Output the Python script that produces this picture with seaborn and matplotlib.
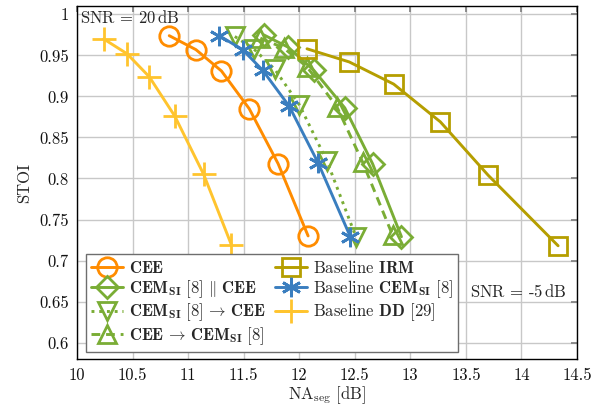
import matplotlib
matplotlib.use("Agg")
import matplotlib.pyplot as plt
import seaborn as sns
import pandas as pd

# NA_seg [dB] and STOI for each method
cee_x = [10.83, 11.07, 11.30, 11.55, 11.81, 12.08]
cee_y = [0.974, 0.957, 0.931, 0.885, 0.818, 0.730]

par_x = [11.68, 11.90, 12.13, 12.41, 12.66, 12.92]
par_y = [0.975, 0.960, 0.932, 0.886, 0.818, 0.729]

semcee_x = [11.42, 11.59, 11.78, 12.00, 12.25, 12.51]
semcee_y = [0.973, 0.958, 0.933, 0.890, 0.821, 0.729]

ceesem_x = [11.65, 11.86, 12.07, 12.34, 12.57, 12.84]
ceesem_y = [0.971, 0.959, 0.936, 0.887, 0.820, 0.731]

irm_x = [12.07, 12.45, 12.85, 13.27, 13.70, 14.33]
irm_y = [0.958, 0.942, 0.915, 0.869, 0.804, 0.718]

cem_x = [11.28, 11.49, 11.67, 11.91, 12.17, 12.46]
cem_y = [0.974, 0.957, 0.932, 0.888, 0.819, 0.729]

dd_x = [10.24, 10.45, 10.65, 10.88, 11.14, 11.39]
dd_y = [0.970, 0.952, 0.924, 0.876, 0.805, 0.719]

labels = [
    r"$\mathbf{CEE}$",
    r"$\mathbf{CEM_{SI}}\ [8]\ \|\ \mathbf{CEE}$",
    r"$\mathbf{CEM_{SI}}\ [8]\,\rightarrow\,\mathbf{CEE}$",
    r"$\mathbf{CEE}\,\rightarrow\,\mathbf{CEM_{SI}}\ [8]$",
    r"Baseline $\mathbf{IRM}$",
    r"Baseline $\mathbf{CEM_{SI}}$ [8]",
    r"Baseline $\mathbf{DD}$ [29]",
]

sns.set_theme(style="whitegrid")
plt.rcParams.update({
    "font.family": "serif",
    "font.serif": ["cmr10"],
    "mathtext.fontset": "cm",
    "axes.unicode_minus": False,
    "axes.formatter.use_mathtext": True,
    "font.size": 12,
})

fig = plt.figure(figsize=(6.03, 4.08), dpi=100)
ax = fig.add_axes([0.1277, 0.12, 0.8292, 0.865])

orange = "#ff8c00"
green = "#7aad35"
gold = "#b59e00"
blue = "#3a7ebf"
yellow = "#ffc42e"

series = [
    (cee_x, cee_y, labels[0], orange, "o", "-", 14),
    (par_x, par_y, labels[1], green, "D", "-", 11),
    (semcee_x, semcee_y, labels[2], green, "v", ":", 13),
    (ceesem_x, ceesem_y, labels[3], green, "^", (0, (3, 2)), 13),
    (irm_x, irm_y, labels[4], gold, "s", "-", 12.5),
    (cem_x, cem_y, labels[5], blue, (6, 2, 0), "-", 14),
    (dd_x, dd_y, labels[6], yellow, "+", "-", 17),
]

handles = []
for xs, ys, lab, col, mk, ls, ms in series:
    df = pd.DataFrame({"x": xs, "y": ys})
    sns.lineplot(data=df, x="x", y="y", ax=ax, sort=False, estimator=None,
                 color=col, marker=mk, markersize=ms, fillstyle="none",
                 markeredgewidth=2.0, markeredgecolor=col, linewidth=2.1,
                 linestyle=ls, label=lab, legend=False)
    handles.append(ax.get_lines()[-1])

ax.set_xlim(10, 14.5)
ax.set_ylim(0.58, 1.01)
ax.set_xticks([10, 10.5, 11, 11.5, 12, 12.5, 13, 13.5, 14, 14.5])
ax.set_xticklabels(["10", "10.5", "11", "11.5", "12", "12.5", "13", "13.5", "14", "14.5"])
ax.set_yticks([0.6, 0.65, 0.7, 0.75, 0.8, 0.85, 0.9, 0.95, 1.0])
ax.set_yticklabels(["0.6", "0.65", "0.7", "0.75", "0.8", "0.85", "0.9", "0.95", "1"])

ax.grid(True, color="#c8c8c8", linewidth=1.0)
for s in ax.spines.values():
    s.set_color("black")
    s.set_linewidth(1.0)
ax.tick_params(direction="in", length=4, color="#808080", top=True, right=True,
               labelsize=12, pad=6)
ax.tick_params(axis="both", which="both", labelcolor="#111111")

ax.set_xlabel(r"NA$_{\mathrm{seg}}$ [dB]", fontsize=12, labelpad=1)
ax.set_ylabel("STOI", fontsize=12, labelpad=5)

ax.text(0.006, 0.992, "SNR = 20$\\,$dB", transform=ax.transAxes,
        ha="left", va="top", fontsize=12)
ax.text(0.98, 0.19, "SNR = -5$\\,$dB", transform=ax.transAxes,
        ha="right", va="center", fontsize=12)

leg = ax.legend(handles=handles, labels=labels, ncol=2, loc="lower left",
                bbox_to_anchor=(0.018, 0.02), borderaxespad=0, fancybox=False,
                framealpha=1, edgecolor="#6e6e6e", fontsize=12,
                handlelength=1.9, handletextpad=0.35, columnspacing=0.6,
                labelspacing=0.12, borderpad=0.3)
leg.get_frame().set_linewidth(1.0)

fig.savefig("out.png", dpi=100)
